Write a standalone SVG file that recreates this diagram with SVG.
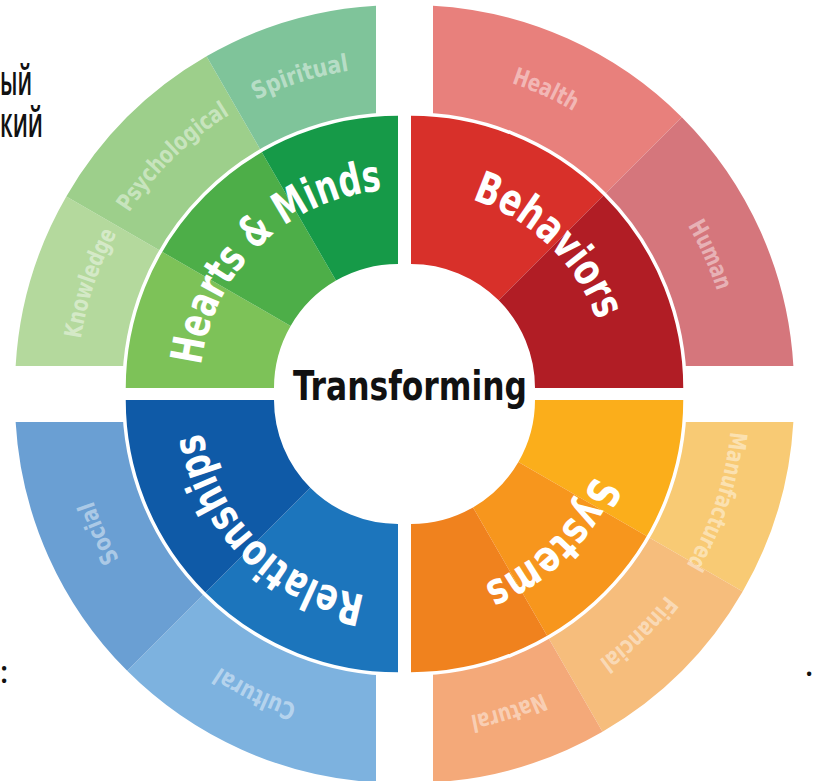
<svg xmlns="http://www.w3.org/2000/svg" width="815" height="781" viewBox="0 0 815 781">
<style>
.in{font-family:"DejaVu Sans Condensed","DejaVu Sans","Liberation Sans",sans-serif;font-stretch:condensed;font-weight:bold;font-size:44px;fill:#fff}
.out{font-family:"DejaVu Sans Condensed","DejaVu Sans","Liberation Sans",sans-serif;font-stretch:condensed;font-weight:bold;font-size:24px;fill:#fff;fill-opacity:.45}
.sep{fill:none;stroke:#fff;stroke-width:3.5}
.frag{font-family:"Open Sans","Noto Sans","DejaVu Sans",sans-serif;font-weight:600;font-size:42px;fill:#111}
</style>
<defs>
<path id="pHM" d="M200.48 401.81A198 198 0 0 1 418.70 191.08"/>
<path id="pKn" d="M83.11 450.35A321 321 0 0 1 186.56 146.48"/>
<path id="pPs" d="M89.05 300.87A321 321 0 0 1 318.99 76.88"/>
<path id="pSp" d="M161.33 171.14A321 321 0 0 1 467.48 74.61"/>
<path id="pBe" d="M390.30 191.08A198 198 0 0 1 608.52 401.81"/>
<path id="pHe" d="M379.12 68.59A321 321 0 0 1 671.68 200.68"/>
<path id="pHu" d="M599.68 128.31A321 321 0 0 1 730.24 421.55"/>
<path id="pRe" d="M415.26 597.25A198 198 0 0 1 200.75 382.74"/>
<path id="pSo" d="M209.32 659.69A321 321 0 0 1 78.76 366.45"/>
<path id="pCu" d="M420.39 720.22A321 321 0 0 1 131.88 579.50"/>
<path id="pSy" d="M608.39 384.46A198 198 0 0 1 392.02 597.09"/>
<path id="pMa" d="M725.33 334.90A321 321 0 0 1 624.54 639.67"/>
<path id="pFi" d="M719.87 487.40A321 321 0 0 1 489.74 711.19"/>
<path id="pNa" d="M647.29 617.28A321 321 0 0 1 340.98 713.27"/>
</defs>
<rect width="815" height="781" fill="#fff"/>

<g id="hearts-minds">
<path id="knowledge" d="M15.63 366A383 383 0 0 1 66.31 196.5L160.71 251A274 274 0 0 0 124.9 366Z" fill="#b4d99d"/>
<path id="psychological" d="M66.31 196.5A383 383 0 0 1 206.5 56.31L261 150.71A274 274 0 0 0 160.71 251Z" fill="#9dcf8b"/>
<path id="spiritual" d="M206.5 56.31A383 383 0 0 1 376 5.63L376 114.9A274 274 0 0 0 261 150.71Z" fill="#7fc49a"/>
<path d="M124 388A274 274 0 0 1 160.71 251L290.61 326A124 124 0 0 0 274 388Z" fill="#7dc258"/>
<path d="M160.71 251A274 274 0 0 1 261 150.71L336 280.61A124 124 0 0 0 290.61 326Z" fill="#4dae48"/>
<path d="M261 150.71A274 274 0 0 1 398 114L398 264A124 124 0 0 0 336 280.61Z" fill="#169a48"/>
<path class="sep" d="M124 388A274 274 0 0 1 398 114"/>
<text class="out"><textPath href="#pKn" startOffset="50%" text-anchor="middle" textLength="112" lengthAdjust="spacingAndGlyphs">Knowledge</textPath></text>
<text class="out"><textPath href="#pPs" startOffset="50%" text-anchor="middle" textLength="142" lengthAdjust="spacingAndGlyphs">Psychological</textPath></text>
<text class="out"><textPath href="#pSp" startOffset="50%" text-anchor="middle" textLength="98" lengthAdjust="spacingAndGlyphs">Spiritual</textPath></text>
<text class="in"><textPath href="#pHM" startOffset="50%" text-anchor="middle" textLength="272" lengthAdjust="spacingAndGlyphs">Hearts &amp; Minds</textPath></text>
</g>

<g id="behaviors">
<path id="health" d="M433 5.63A383 383 0 0 1 681.82 117.18L604.75 194.25A274 274 0 0 0 433 114.9Z" fill="#e8807c"/>
<path id="human" d="M681.82 117.18A383 383 0 0 1 793.37 366L684.1 366A274 274 0 0 0 604.75 194.25Z" fill="#d5767c"/>
<path d="M411 114A274 274 0 0 1 604.75 194.25L498.68 300.32A124 124 0 0 0 411 264Z" fill="#d8302a"/>
<path d="M604.75 194.25A274 274 0 0 1 685 388L535 388A124 124 0 0 0 498.68 300.32Z" fill="#b11d25"/>
<path class="sep" d="M411 114A274 274 0 0 1 685 388"/>
<text class="out"><textPath href="#pHe" startOffset="50%" text-anchor="middle" textLength="68" lengthAdjust="spacingAndGlyphs">Health</textPath></text>
<text class="out"><textPath href="#pHu" startOffset="50%" text-anchor="middle" textLength="72" lengthAdjust="spacingAndGlyphs">Human</textPath></text>
<text class="in"><textPath href="#pBe" startOffset="50%" text-anchor="middle" textLength="180" lengthAdjust="spacingAndGlyphs">Behaviors</textPath></text>
</g>

<g id="relationships">
<path id="cultural" d="M376 782.37A383 383 0 0 1 127.18 670.82L204.25 593.75A274 274 0 0 0 376 673.1Z" fill="#7db2df"/>
<path id="social" d="M127.18 670.82A383 383 0 0 1 15.63 422L124.9 422A274 274 0 0 0 204.25 593.75Z" fill="#6a9fd3"/>
<path d="M398 674A274 274 0 0 1 204.25 593.75L310.32 487.68A124 124 0 0 0 398 524Z" fill="#1c75bc"/>
<path d="M204.25 593.75A274 274 0 0 1 124 400L274 400A124 124 0 0 0 310.32 487.68Z" fill="#0f5aa7"/>
<path class="sep" d="M398 674A274 274 0 0 1 124 400"/>
<text class="out"><textPath href="#pSo" startOffset="50%" text-anchor="middle" textLength="64" lengthAdjust="spacingAndGlyphs">Social</textPath></text>
<text class="out"><textPath href="#pCu" startOffset="50%" text-anchor="middle" textLength="86" lengthAdjust="spacingAndGlyphs">Cultural</textPath></text>
<text class="in"><textPath href="#pRe" startOffset="50%" text-anchor="middle" textLength="245" lengthAdjust="spacingAndGlyphs">Relationships</textPath></text>
</g>

<g id="systems">
<path id="manufactured" d="M793.37 422A383 383 0 0 1 742.69 591.5L648.29 537A274 274 0 0 0 684.1 422Z" fill="#f8ca74"/>
<path id="financial" d="M742.69 591.5A383 383 0 0 1 602.5 731.69L548 637.29A274 274 0 0 0 648.29 537Z" fill="#f6bd7c"/>
<path id="natural" d="M602.5 731.69A383 383 0 0 1 433 782.37L433 673.1A274 274 0 0 0 548 637.29Z" fill="#f4a979"/>
<path d="M685 400A274 274 0 0 1 648.29 537L518.39 462A124 124 0 0 0 535 400Z" fill="#fbae1b"/>
<path d="M648.29 537A274 274 0 0 1 548 637.29L473 507.39A124 124 0 0 0 518.39 462Z" fill="#f7961d"/>
<path d="M548 637.29A274 274 0 0 1 411 674L411 524A124 124 0 0 0 473 507.39Z" fill="#f0821e"/>
<path class="sep" d="M685 400A274 274 0 0 1 411 674"/>
<text class="out"><textPath href="#pMa" startOffset="50%" text-anchor="middle" textLength="142" lengthAdjust="spacingAndGlyphs">Manufactured</textPath></text>
<text class="out"><textPath href="#pFi" startOffset="50%" text-anchor="middle" textLength="94" lengthAdjust="spacingAndGlyphs">Financial</textPath></text>
<text class="out"><textPath href="#pNa" startOffset="50%" text-anchor="middle" textLength="76" lengthAdjust="spacingAndGlyphs">Natural</textPath></text>
<text class="in"><textPath href="#pSy" startOffset="50%" text-anchor="middle" textLength="159" lengthAdjust="spacingAndGlyphs">Systems</textPath></text>
</g>

<g id="center">
<text x="410" y="400" text-anchor="middle" textLength="234" lengthAdjust="spacingAndGlyphs" style="font-family:'DejaVu Sans Condensed','DejaVu Sans',sans-serif;font-stretch:condensed;font-weight:bold;font-size:40px;fill:#111">Transforming</text>
</g>

<g id="fragments">
<text class="frag" x="0" y="95" textLength="32" lengthAdjust="spacingAndGlyphs">ый</text>
<text class="frag" x="0" y="137" textLength="43" lengthAdjust="spacingAndGlyphs">кий</text>
<text class="frag" x="0" y="683" style="font-size:30px">:</text>
<text class="frag" x="805" y="676" style="font-size:30px">.</text>
</g>
</svg>
